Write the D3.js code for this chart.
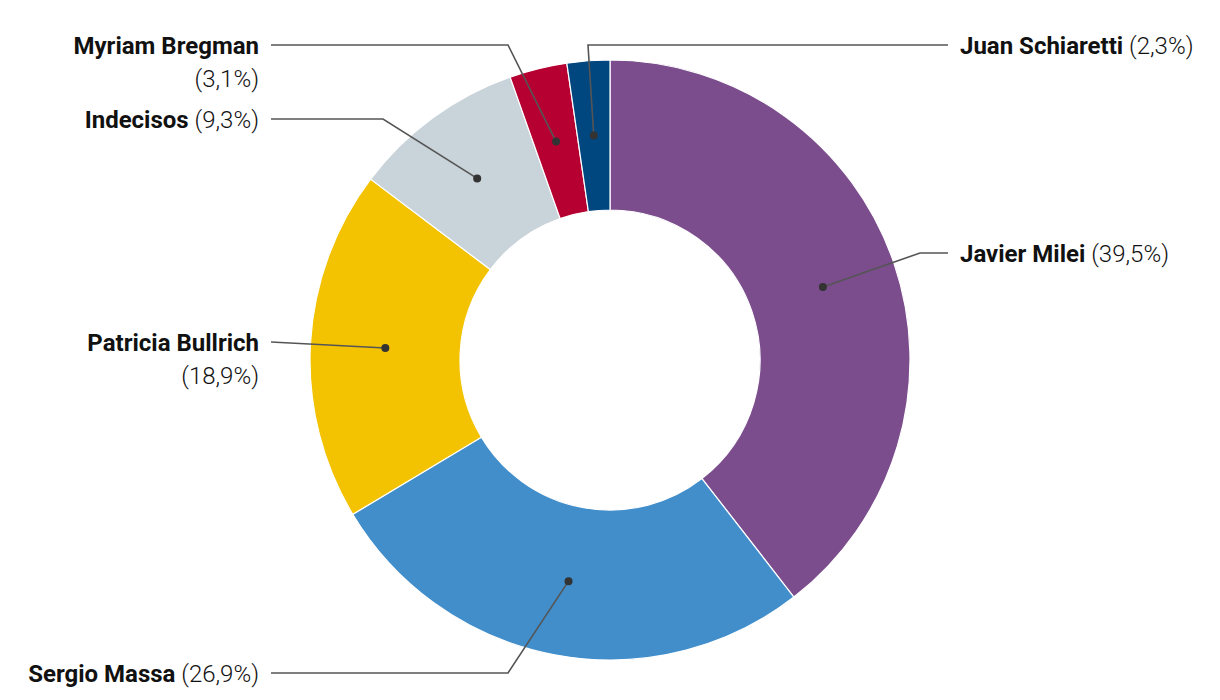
<!DOCTYPE html>
<html>
<head>
<meta charset="utf-8">
<script src="https://cdn.jsdelivr.net/npm/d3@7"></script>
<style>
  html, body { margin: 0; padding: 0; background: #fff; }
  svg { display: block; }
  text { font-family: Roboto, "Noto Sans", sans-serif; font-size: 24px; fill: #111; }
  .name { font-weight: 700; }
  .pct { font-weight: 300; }
</style>
</head>
<body>
<svg id="chart" width="1220" height="700"></svg>
<script>
// ---- data ----
const candidates = ["Javier Milei", "Sergio Massa", "Patricia Bullrich", "Indecisos", "Myriam Bregman", "Juan Schiaretti"];
const values = [39.5, 26.9, 18.9, 9.3, 3.1, 2.3];
const pctLabels = ["(39,5%)", "(26,9%)", "(18,9%)", "(9,3%)", "(3,1%)", "(2,3%)"];
const colors = ["#7b4d8d", "#418ecb", "#f3c200", "#c9d3da", "#b50031", "#00467f"];

// ---- layout (annotation placement, pixels relative to chart center) ----
const labelLayout = [
  { side: "right", y: -107, elbowX: 310, twoLines: false },
  { side: "left",  y: 313,  elbowX: -102, twoLines: false },
  { side: "left",  y: -18,  elbowX: null, twoLines: true },
  { side: "left",  y: -241, elbowX: -227, twoLines: false },
  { side: "left",  y: -315, elbowX: -102, twoLines: true },
  { side: "right", y: -315, elbowX: -22, twoLines: false }
];

const W = 1220, H = 700;
const cx = 610, cy = 360;
const outerR = 300, innerR = 150;
const lineEndRight = 338, lineEndLeft = -339;
const textRight = 350, textLeft = -351;

const svg = d3.select("#chart");
const g = svg.append("g").attr("transform", `translate(${cx},${cy})`);

const data = candidates.map((c, i) => ({ name: c, value: values[i], pct: pctLabels[i], color: colors[i], layout: labelLayout[i] }));

const pie = d3.pie().value(d => d.value).sort(null);
const arc = d3.arc().innerRadius(innerR).outerRadius(outerR);
const arcs = pie(data);

g.selectAll("path.slice")
  .data(arcs)
  .join("path")
  .attr("class", "slice")
  .attr("d", arc)
  .attr("fill", d => d.data.color)
  .attr("stroke", "#fff")
  .attr("stroke-width", 1.2);

// leader lines
arcs.forEach(a => {
  const L = a.data.layout;
  const [px, py] = arc.centroid(a);
  const endX = L.side === "right" ? lineEndRight : lineEndLeft;
  const pts = [[px, py]];
  if (L.elbowX !== null) pts.push([L.elbowX, L.y]);
  pts.push([endX, L.y]);
  g.append("path")
    .attr("d", d3.line()(pts))
    .attr("fill", "none")
    .attr("stroke", "#555")
    .attr("stroke-width", 1.6);
  g.append("circle")
    .attr("cx", px).attr("cy", py).attr("r", 4)
    .attr("fill", "#333");

  const tx = L.side === "right" ? textRight : textLeft;
  const anchor = L.side === "right" ? "start" : "end";
  if (L.twoLines) {
    g.append("text").attr("class", "name")
      .attr("x", tx).attr("y", L.y).attr("dy", "0.36em")
      .attr("text-anchor", anchor).text(a.data.name);
    g.append("text").attr("class", "pct")
      .attr("x", tx).attr("y", L.y + 33).attr("dy", "0.36em")
      .attr("text-anchor", anchor).text(a.data.pct);
  } else {
    const t = g.append("text")
      .attr("x", tx).attr("y", L.y).attr("dy", "0.36em")
      .attr("text-anchor", anchor);
    t.append("tspan").attr("class", "name").text(a.data.name);
    t.append("tspan").attr("class", "pct").text(" " + a.data.pct);
  }
});
</script>
</body>
</html>
